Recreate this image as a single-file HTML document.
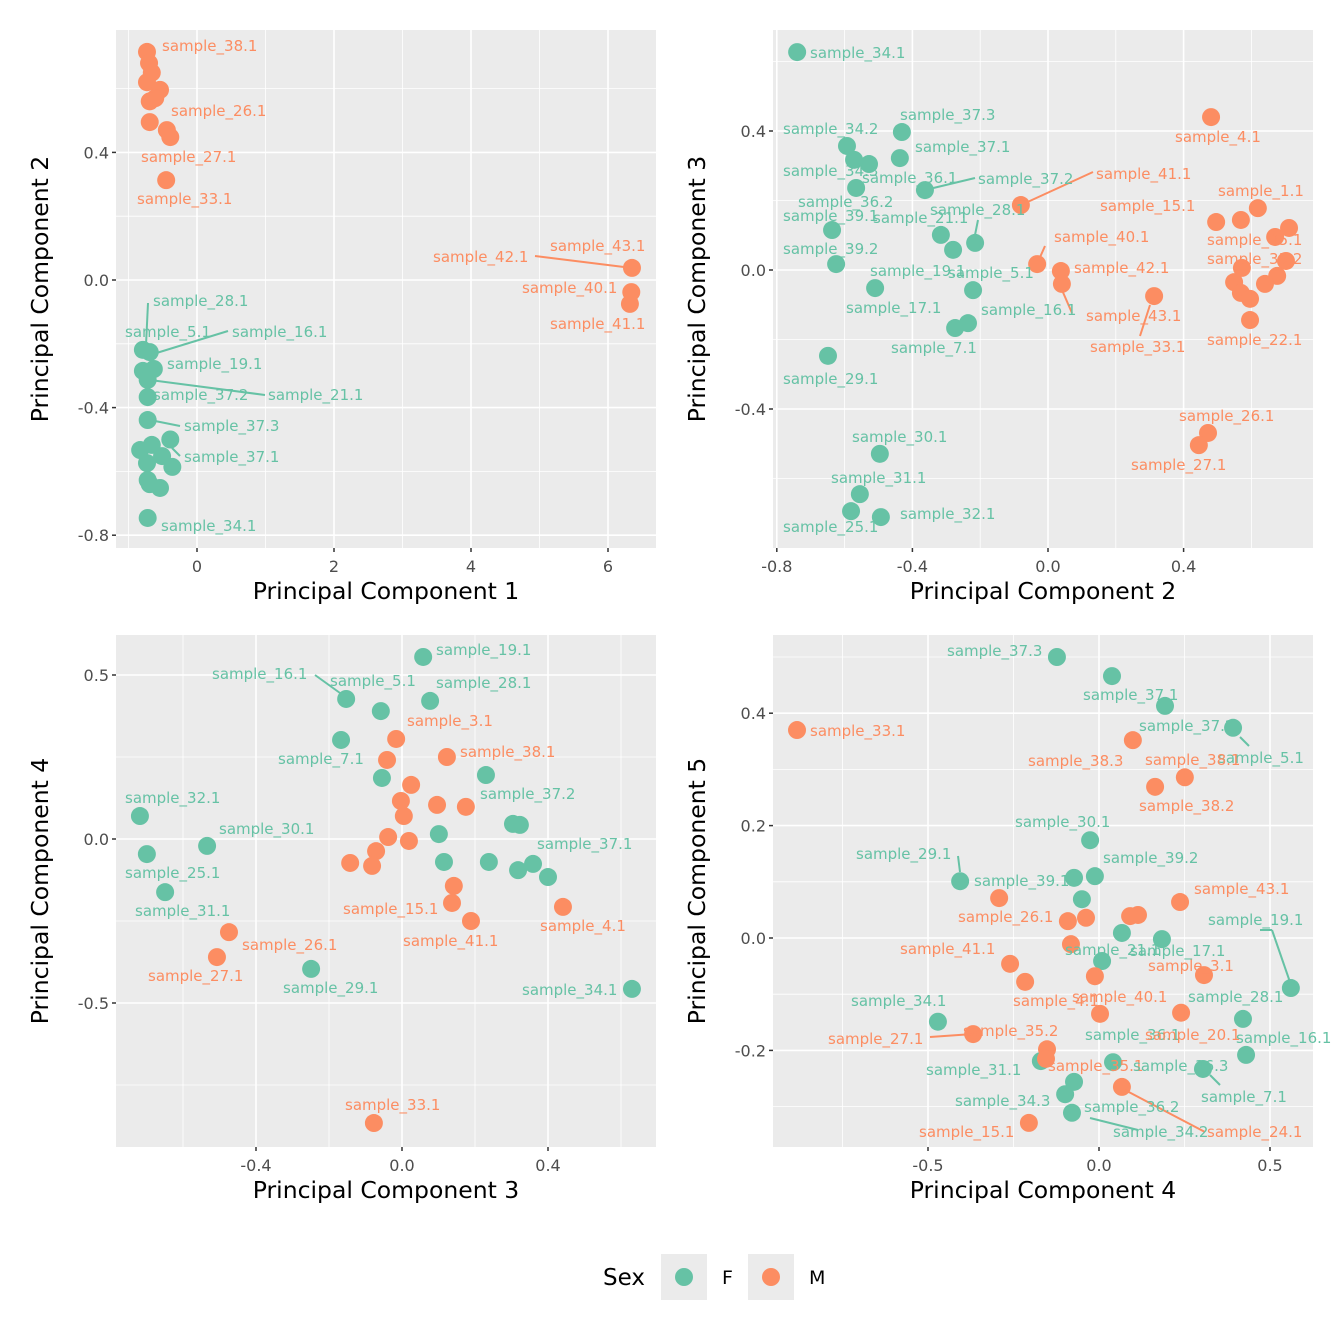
<!DOCTYPE html>
<html><head><meta charset="utf-8"><style>
body{margin:0;background:#fff}
svg{display:block;font-family:"DejaVu Sans","Liberation Sans",sans-serif}
</style></head><body>
<svg id="chart" width="1344" height="1344" viewBox="0 0 1344 1344" xmlns="http://www.w3.org/2000/svg">
<rect width="1344" height="1344" fill="#fff"/>
<g id="panels"></g>
<g id="legend">
<text x="603" y="1285" font-size="23" fill="#000">Sex</text>
<rect x="661" y="1254" width="46" height="46" fill="#ebebeb"/>
<circle cx="684" cy="1277" r="9" fill="#66c2a5"/>
<text x="722" y="1284" font-size="19" fill="#000">F</text>
<rect x="748" y="1254" width="46" height="46" fill="#ebebeb"/>
<circle cx="771" cy="1277" r="9" fill="#fc8d62"/>
<text x="809" y="1284" font-size="19" fill="#000">M</text>
</g>
</svg>
<script>
// Panel 1: PC1 vs PC2
const p1x=[-0.73,-0.70,-0.66,-0.73,-0.54,-0.61,-0.69,-0.69,-0.44,-0.39,-0.45,6.35,6.34,6.32,-0.79,-0.69,-0.79,-0.63,-0.72,-0.72,-0.72,-0.83,-0.66,-0.39,-0.51,-0.73,-0.36,-0.72,-0.69,-0.54,-0.72];
const p1y=[0.715,0.68,0.65,0.62,0.596,0.57,0.56,0.495,0.47,0.448,0.313,0.038,-0.038,-0.075,-0.219,-0.226,-0.285,-0.279,-0.313,-0.367,-0.439,-0.533,-0.517,-0.5,-0.552,-0.574,-0.586,-0.627,-0.64,-0.652,-0.746];
const p1s="MMMMMMMMMMMMMMFFFFFFFFFFFFFFFFF";
// Panel 2: PC2 vs PC3
const p2x=[-0.740,-0.593,-0.431,-0.572,-0.528,-0.437,-0.566,-0.363,-0.637,-0.316,-0.28,-0.215,-0.625,-0.51,-0.221,-0.274,-0.236,-0.649,-0.496,-0.555,-0.581,-0.493,0.481,-0.080,-0.032,0.038,0.041,0.313,0.496,0.569,0.619,0.711,0.670,0.572,0.702,0.676,0.640,0.549,0.569,0.596,0.596,0.472,0.445];
const p2y=[0.627,0.357,0.397,0.317,0.305,0.322,0.236,0.230,0.115,0.101,0.058,0.078,0.017,-0.052,-0.058,-0.167,-0.153,-0.247,-0.529,-0.645,-0.694,-0.711,0.440,0.187,0.017,-0.003,-0.040,-0.075,0.138,0.144,0.178,0.121,0.095,0.006,0.026,-0.017,-0.040,-0.035,-0.066,-0.083,-0.144,-0.469,-0.504];
const p2s="FFFFFFFFFFFFFFFFFFFFFFMMMMMMMMMMMMMMMMMMMMM";
// Panel 3: PC3 vs PC4
const p3x=[0.058,-0.153,-0.058,0.077,-0.167,-0.055,0.230,-0.718,0.304,0.323,0.101,-0.699,-0.534,0.115,0.238,0.359,0.318,0.4,-0.649,-0.249,0.630,-0.016,-0.041,0.123,0.025,-0.003,0.096,0.175,0.005,-0.038,0.019,-0.071,-0.142,-0.082,0.142,0.137,0.189,0.441,-0.474,-0.507,-0.077];
const p3y=[0.555,0.427,0.390,0.421,0.302,0.186,0.195,0.070,0.046,0.043,0.015,-0.046,-0.021,-0.070,-0.070,-0.076,-0.095,-0.116,-0.162,-0.396,-0.457,0.305,0.241,0.250,0.165,0.116,0.104,0.098,0.070,0.006,-0.006,-0.037,-0.073,-0.082,-0.143,-0.195,-0.250,-0.207,-0.284,-0.360,-0.866];
const p3s="FFFFFFFFFFFFFFFFFFFFFMMMMMMMMMMMMMMMMMMMM";
// Panel 4: PC4 vs PC5
const p4x=[-0.123,0.038,0.193,0.392,-0.026,-0.406,-0.073,-0.012,-0.050,0.067,0.184,0.009,0.561,0.421,-0.471,0.430,-0.170,0.041,0.304,-0.073,-0.099,-0.079,-0.883,0.099,0.251,0.164,-0.292,0.237,-0.091,-0.038,0.091,0.114,-0.082,-0.260,-0.012,0.307,-0.216,0.003,0.240,-0.368,-0.152,-0.155,0.067,-0.205];
const p4y=[0.500,0.466,0.413,0.374,0.174,0.101,0.107,0.110,0.069,0.009,-0.002,-0.041,-0.089,-0.144,-0.149,-0.208,-0.219,-0.221,-0.233,-0.256,-0.278,-0.311,0.370,0.352,0.286,0.269,0.071,0.064,0.030,0.036,0.039,0.041,-0.011,-0.046,-0.068,-0.066,-0.078,-0.135,-0.133,-0.171,-0.198,-0.215,-0.265,-0.329];
const p4s="FFFFFFFFFFFFFFFFFFFFFFMMMMMMMMMMMMMMMMMMMMMM";

const p1xt=["0","2","4","6"], p1yt=["-0.8","-0.4","0.0","0.4"];
const p2xt=["-0.8","-0.4","0.0","0.4"], p2yt=["-0.4","0.0","0.4"];
const p3xt=["-0.4","0.0","0.4"], p3yt=["-0.5","0.0","0.5"];
const p4xt=["-0.5","0.0","0.5"], p4yt=["-0.2","0.0","0.2","0.4"];

const NS="http://www.w3.org/2000/svg";
const COL={F:"#66c2a5",M:"#fc8d62"};
function mk(tag,attrs,parent){const e=document.createElementNS(NS,tag);for(const k in attrs)e.setAttribute(k,attrs[k]);parent.appendChild(e);return e;}
const root=document.getElementById('panels');

const panels=[
 {L:116,T:30,R:656,B:548,xv0:0,xp0:197,xs:68.5,yv0:0,yp0:280,ys:319,xs_:p1x,ys_:p1y,ss:p1s,xt:p1xt,yt:p1yt,xmin:[-1,1,3,5],ymin:[-0.6,-0.2,0.2,0.6],xl:"Principal Component 1",yl:"Principal Component 2",
  labels:[["sample_38.1",162,46,"M"],["sample_26.1",171,111,"M"],["sample_27.1",141,157,"M"],["sample_33.1",137,199,"M"],["sample_43.1",550,246,"M"],["sample_42.1",433,257,"M"],["sample_40.1",522,288,"M"],["sample_41.1",550,324,"M"],["sample_28.1",153,301,"F"],["sample_5.1",125,332,"F"],["sample_16.1",232,332,"F"],["sample_19.1",167,364,"F"],["sample_37.2",153,395,"F"],["sample_21.1",268,395,"F"],["sample_37.3",184,426,"F"],["sample_37.1",184,457,"F"],["sample_34.1",161,526,"F"]],
  segs:[[535,256,632,268,"M"],[148,303,146,345,"F"],[228,331,150,355,"F"],[265,395,150,380,"F"],[180,426,150,420,"F"],[180,456,172,448,"F"]]},
 {L:773,T:30,R:1313,B:548,xv0:0,xp0:1048,xs:339,yv0:0,yp0:270,ys:347.5,xs_:p2x,ys_:p2y,ss:p2s,xt:p2xt,yt:p2yt,xmin:[-0.6,-0.2,0.2,0.6],ymin:[-0.6,-0.2,0.2,0.6],xl:"Principal Component 2",yl:"Principal Component 3",
  labels:[["sample_34.1",810,53,"F"],["sample_34.2",783,129,"F"],["sample_37.3",900,115,"F"],["sample_37.1",915,147,"F"],["sample_34.3",783,171,"F"],["sample_36.1",862,178,"F"],["sample_37.2",978,179,"F"],["sample_36.2",798,202,"F"],["sample_39.1",783,216,"F"],["sample_21.1",873,218,"F"],["sample_28.1",930,210,"F"],["sample_39.2",783,249,"F"],["sample_19.1",870,271,"F"],["sample_5.1",948,273,"F"],["sample_17.1",846,308,"F"],["sample_16.1",981,310,"F"],["sample_7.1",891,348,"F"],["sample_29.1",783,379,"F"],["sample_30.1",852,437,"F"],["sample_31.1",831,478,"F"],["sample_32.1",900,514,"F"],["sample_25.1",783,527,"F"],
   ["sample_4.1",1175,137,"M"],["sample_41.1",1096,174,"M"],["sample_1.1",1218,191,"M"],["sample_15.1",1100,206,"M"],["sample_40.1",1054,237,"M"],["sample_35.1",1207,240,"M"],["sample_42.1",1074,268,"M"],["sample_35.2",1207,259,"M"],["sample_43.1",1086,316,"M"],["sample_33.1",1090,347,"M"],["sample_22.1",1207,340,"M"],["sample_26.1",1179,416,"M"],["sample_27.1",1131,465,"M"]],
  segs:[[975,178,925,190,"F"],[978,220,975,235,"F"],[1093,172,1021,205,"M"],[1045,246,1037,264,"M"],[1072,313,1062,290,"M"],[1140,336,1150,305,"M"]]},
 {L:116,T:635,R:656,B:1147,xv0:0,xp0:402,xs:365,yv0:0,yp0:839,ys:328,xs_:p3x,ys_:p3y,ss:p3s,xt:p3xt,yt:p3yt,xmin:[-0.6,-0.2,0.2,0.6],ymin:[-0.75,-0.25,0.25],xl:"Principal Component 3",yl:"Principal Component 4",
  labels:[["sample_19.1",436,650,"F"],["sample_16.1",212,674,"F"],["sample_5.1",330,681,"F"],["sample_28.1",436,683,"F"],["sample_3.1",407,721,"M"],["sample_7.1",278,759,"F"],["sample_38.1",460,752,"M"],["sample_37.2",480,794,"F"],["sample_32.1",125,798,"F"],["sample_30.1",219,829,"F"],["sample_37.1",537,844,"F"],["sample_25.1",125,873,"F"],["sample_15.1",343,909,"M"],["sample_31.1",135,911,"F"],["sample_41.1",403,941,"M"],["sample_4.1",540,926,"M"],["sample_26.1",242,945,"M"],["sample_27.1",148,976,"M"],["sample_29.1",283,988,"F"],["sample_34.1",522,990,"F"],["sample_33.1",345,1105,"M"]],
  segs:[[315,675,340,693,"F"]]},
 {L:773,T:635,R:1313,B:1147,xv0:0,xp0:1099,xs:342,yv0:0,yp0:938,ys:562,xs_:p4x,ys_:p4y,ss:p4s,xt:p4xt,yt:p4yt,xmin:[-0.75,-0.25,0.25],ymin:[-0.3,-0.1,0.1,0.3,0.5],xl:"Principal Component 4",yl:"Principal Component 5",
  labels:[["sample_37.3",947,651,"F"],["sample_37.1",1083,695,"F"],["sample_33.1",810,731,"M"],["sample_37.2",1139,726,"F"],["sample_5.1",1218,758,"F"],["sample_38.3",1028,761,"M"],["sample_38.1",1145,760,"M"],["sample_38.2",1139,806,"M"],["sample_30.1",1015,822,"F"],["sample_29.1",856,854,"F"],["sample_39.2",1103,858,"F"],["sample_39.1",974,881,"F"],["sample_43.1",1194,889,"M"],["sample_26.1",958,917,"M"],["sample_19.1",1208,920,"F"],["sample_41.1",900,949,"M"],["sample_21.1",1065,950,"F"],["sample_17.1",1130,951,"F"],["sample_3.1",1148,966,"M"],["sample_4.1",1013,1001,"M"],["sample_40.1",1072,997,"M"],["sample_28.1",1188,997,"F"],["sample_34.1",851,1001,"F"],["sample_36.1",1085,1035,"F"],["sample_20.1",1145,1035,"M"],["sample_27.1",828,1039,"M"],["sample_35.2",963,1031,"M"],["sample_16.1",1236,1038,"F"],["sample_35.1",1048,1066,"M"],["sample_36.3",1133,1066,"F"],["sample_31.1",926,1070,"F"],["sample_7.1",1201,1097,"F"],["sample_34.3",955,1101,"F"],["sample_36.2",1084,1107,"F"],["sample_15.1",919,1132,"M"],["sample_34.2",1113,1132,"F"],["sample_24.1",1207,1132,"M"]],
  segs:[[1240,737,1249,746,"F"],[958,856,960,872,"F"],[1260,930,1272,930,"F"],[1272,930,1291,985,"F"],[930,1037,973,1034,"M"],[1090,1118,1138,1130,"F"],[1125,1090,1205,1132,"M"],[1210,1075,1220,1085,"F"]]}
];

panels.forEach((p,i)=>{
  const X=v=>p.xp0+(v-p.xv0)*p.xs, Y=v=>p.yp0-(v-p.yv0)*p.ys;
  const g=mk('g',{},root);
  
  
  const bg=mk('rect',{x:p.L,y:p.T,width:p.R-p.L,height:p.B-p.T,fill:'#ebebeb'},g);
  
  
  p.xmin.forEach(v=>mk('line',{x1:X(v),x2:X(v),y1:p.T,y2:p.B,stroke:'#fff','stroke-width':0.8},g));
  p.ymin.forEach(v=>mk('line',{y1:Y(v),y2:Y(v),x1:p.L,x2:p.R,stroke:'#fff','stroke-width':0.8},g));
  p.xt.forEach(t=>{const v=parseFloat(t);
    mk('line',{x1:X(v),x2:X(v),y1:p.T,y2:p.B,stroke:'#fff','stroke-width':1.6},g);
    mk('line',{x1:X(v),x2:X(v),y1:p.B,y2:p.B+4,stroke:'#333','stroke-width':1.5},g);
    const tx=mk('text',{x:X(v),y:p.B+24,'font-size':16,fill:'#4d4d4d','text-anchor':'middle'},g);tx.textContent=t;
    
    
  });
  p.yt.forEach(t=>{const v=parseFloat(t);
    mk('line',{y1:Y(v),y2:Y(v),x1:p.L,x2:p.R,stroke:'#fff','stroke-width':1.6},g);
    mk('line',{y1:Y(v),y2:Y(v),x1:p.L-4,x2:p.L,stroke:'#333','stroke-width':1.5},g);
    const tx=mk('text',{x:p.L-7,y:Y(v)+6,'font-size':16,fill:'#4d4d4d','text-anchor':'end'},g);tx.textContent=t;
    
    
  });
  const xl=mk('text',{x:(p.L+p.R)/2,y:p.B+51,'font-size':23.5,fill:'#000','text-anchor':'middle'},g);xl.textContent=p.xl;
  
  
  const yc=(p.T+p.B)/2, yx=p.L-76;
  const yl=mk('text',{x:yx,y:yc,'font-size':23.5,fill:'#000','text-anchor':'middle',transform:`rotate(-90 ${yx} ${yc})`,dy:'0.35em'},g);yl.textContent=p.yl;
  
  
  p.xs_.forEach((v,k)=>{
    const c=mk('circle',{cx:X(v),cy:Y(p.ys_[k]),r:9,fill:COL[p.ss[k]]},g);
    
    
  });
  p.segs.forEach(s=>mk('line',{x1:s[0],y1:s[1],x2:s[2],y2:s[3],stroke:COL[s[4]],'stroke-width':2},g));
  p.labels.forEach(l=>{
    const t=mk('text',{x:l[1],y:l[2]+5,'font-size':15,fill:COL[l[3]]},g);t.textContent=l[0];
    
    
  });
});
</script>
</body></html>
